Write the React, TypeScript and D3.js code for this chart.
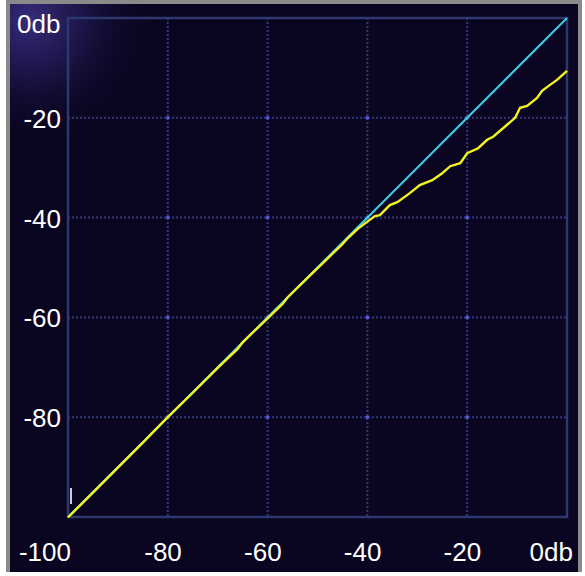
import React from 'react';
import * as d3 from 'd3';

// input level (dB) / output level (dB)
const unityIn = [-100, 0];
const yellowIn = [-100, -95, -90, -85, -80, -75, -70, -66, -65, -62, -60, -57, -56, -52, -48, -45, -44, -42, -40, -38.5, -37.5, -35.5, -34, -31.5, -29.5, -27, -25, -23.4, -21.4, -20, -17.8, -16, -14.8, -12, -10.4, -9.4, -8, -6, -5, -3.4, -2, 0];
const yellowOut = [-100.1, -95.1, -90.1, -85.1, -80.0, -75.1, -70.1, -66.3, -65.0, -62.1, -60.2, -57.3, -56.0, -52.1, -48.2, -45.3, -44.2, -42.3, -40.8, -39.7, -39.5, -37.5, -36.9, -35.1, -33.5, -32.5, -31.1, -29.7, -29.1, -27.1, -26.1, -24.4, -23.8, -21.4, -20.0, -18.0, -17.6, -16.0, -14.6, -13.4, -12.4, -10.6];

const xTicks = [-100, -80, -60, -40, -20, 0];
const xLabels = ['-100', '-80', '-60', '-40', '-20', '0db'];
const yTicks = [0, -20, -40, -60, -80];
const yLabels = ['0db', '-20', '-40', '-60', '-80'];
const gridTicks = [-80, -60, -40, -20];

export default function App() {
  const W = 585, H = 576;
  const x = d3.scaleLinear().domain([-100, 0]).range([68, 567]);
  const y = d3.scaleLinear().domain([-100, 0]).range([517, 18]);

  const line = d3.line<[number, number]>().x(d => x(d[0])).y(d => y(d[1]));
  const unityPath = line(unityIn.map(v => [v, v]))!;
  const yellowPath = line(yellowIn.map((v, i) => [v, yellowOut[i]]))!;

  const font = { fontFamily: '"Liberation Sans", Arial, sans-serif', fontSize: 26, fill: '#ffffff' };

  return (
    <svg width={W} height={H} style={{ position: 'absolute', left: 0, top: 0 }}>
      <defs>
        <radialGradient id="glow" cx="30" cy="20" r="125" gradientUnits="userSpaceOnUse">
          <stop offset="0" stopColor="#3c3288" stopOpacity="0.9" />
          <stop offset="0.45" stopColor="#281f62" stopOpacity="0.55" />
          <stop offset="1" stopColor="#0a0520" stopOpacity="0" />
        </radialGradient>
      </defs>
      <rect x={0} y={0} width={W} height={H} fill="#ffffff" />
      <rect x={6} y={0} width={576} height={572} fill="#8a8a8a" />
      <rect x={10} y={4} width={568} height={568} fill="#0a0520" />
      <rect x={10} y={4} width={568} height={568} fill="url(#glow)" />

      {/* grid */}
      {gridTicks.map(t => (
        <line key={'v' + t} x1={x(t)} x2={x(t)} y1={y(0)} y2={y(-100)} stroke="#34387a" strokeWidth={2} strokeDasharray="2,2" />
      ))}
      {gridTicks.map(t => (
        <line key={'h' + t} x1={x(-100)} x2={x(0)} y1={y(t)} y2={y(t)} stroke="#34387a" strokeWidth={2} strokeDasharray="2,2" />
      ))}
      {gridTicks.flatMap(a => gridTicks.map(b => (
        <rect key={a + '_' + b} x={x(a) - 1.5} y={y(b) - 1.5} width={3} height={3} fill="#5c5ce0" />
      )))}

      <rect x={x(-100)} y={y(0)} width={x(0) - x(-100)} height={y(-100) - y(0)} fill="none" stroke="#2c386e" strokeWidth={2.5} />

      <path d={unityPath} fill="none" stroke="#38d0ea" strokeWidth={2} />
      <path d={yellowPath} fill="none" stroke="#f4f41a" strokeWidth={2.4} strokeLinejoin="miter" />

      <line x1={71} x2={71} y1={488} y2={504} stroke="#ffffff" strokeWidth={1.6} />

      {yTicks.map((t, i) => i === 0 ? (
        <text key={'yl' + t} x={17} y={y(t) + 15} {...font} textAnchor="start">{yLabels[i]}</text>
      ) : (
        <text key={'yl' + t} x={61} y={y(t) + 10} {...font} textAnchor="end">{yLabels[i]}</text>
      ))}
      {xTicks.map((t, i) => {
        const off = i === 0 ? 3 : i === xTicks.length - 1 ? 6 : 14;
        return (
          <text key={'xl' + t} x={x(t) + off} y={561} {...font} textAnchor="end">{xLabels[i]}</text>
        );
      })}
    </svg>
  );
}
